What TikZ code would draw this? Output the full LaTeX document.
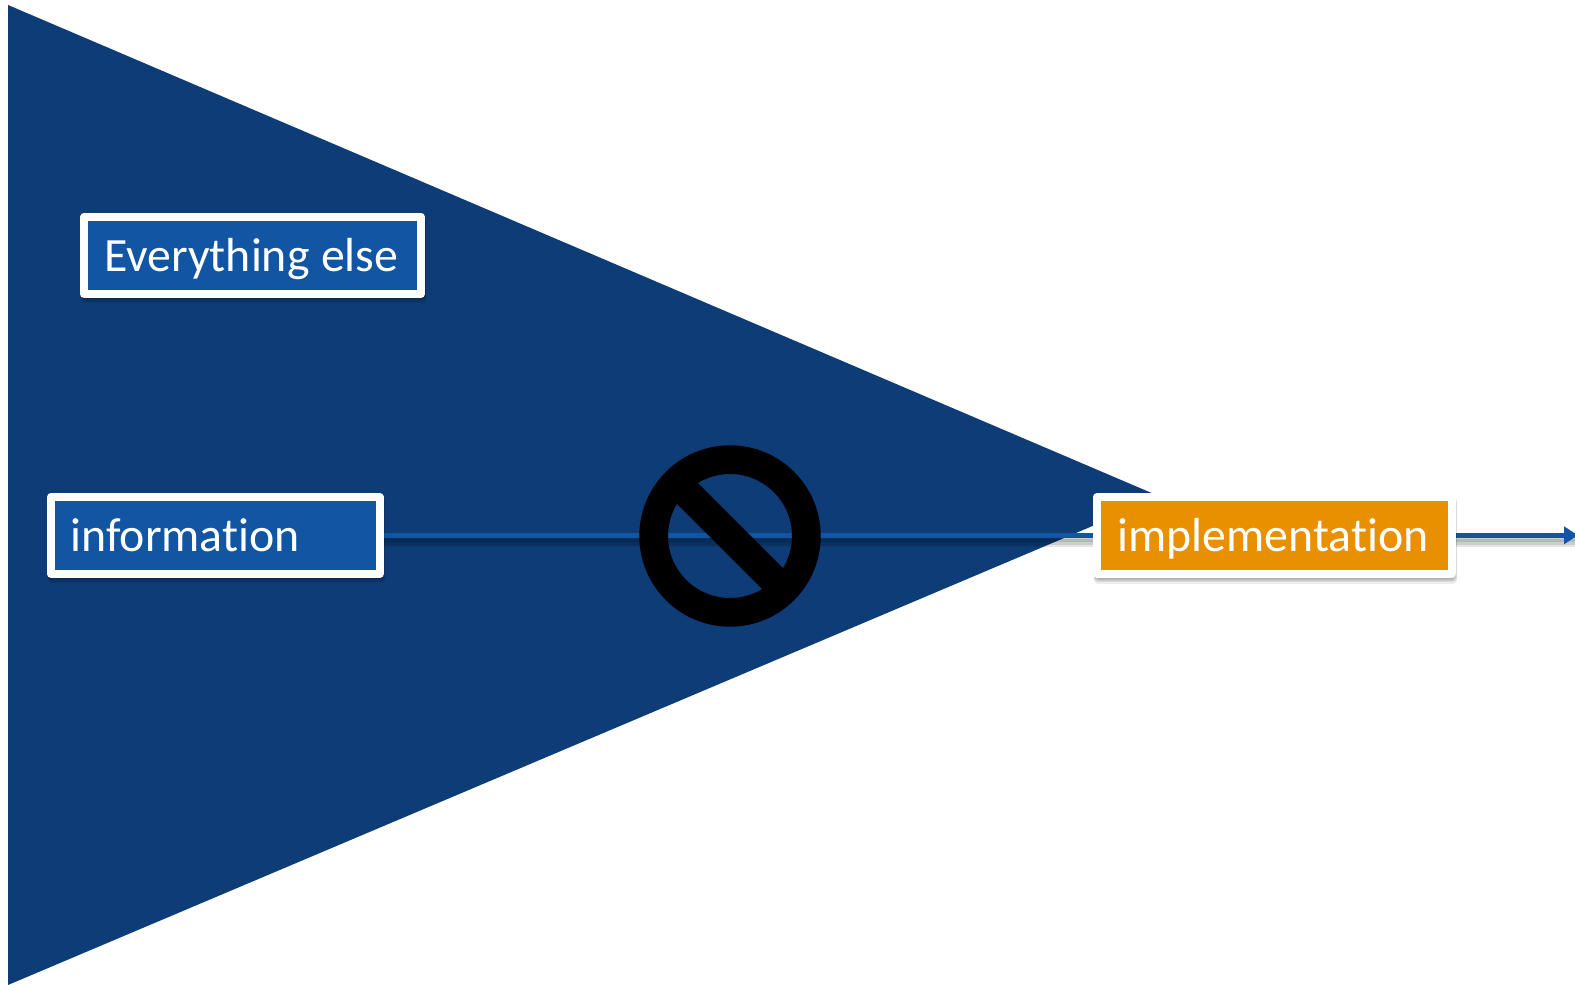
\documentclass[tikz,border=0pt]{standalone}
\usepackage{fontspec}
\setmainfont{Carlito}[Ligatures=NoCommon,RawFeature={-liga;-clig;-dlig}]
\usetikzlibrary{arrows.meta,shadows}
\definecolor{funnel}{HTML}{0E3C77}
\definecolor{boxblue}{HTML}{1155A3}
\definecolor{boxorange}{HTML}{E89000}
\pgfdeclarelayer{under}
\pgfsetlayers{under,main}
\tikzset{
  softshadow/.style={
    general shadow={shadow xshift=.5pt,shadow yshift=-1pt,draw=black,fill=black,opacity=.06},
    general shadow={shadow xshift=.5pt,shadow yshift=-2.5pt,draw=black,fill=black,opacity=.07},
    general shadow={shadow xshift=1pt,shadow yshift=-4pt,draw=black,fill=black,opacity=.08},
    general shadow={shadow xshift=1pt,shadow yshift=-5.5pt,draw=black,fill=black,opacity=.07}},
  labelbox/.style={softshadow,draw=white,line width=8pt,line join=round,text=white,
    font=\fontsize{47.8pt}{50pt}\selectfont,inner xsep=19.5pt,inner ysep=0pt,outer sep=0pt,
    align=left,text depth=10pt,text height=42.2pt,minimum height=77pt,anchor=center},
  wire/.style={line width=5.5pt,draw=boxblue},
  wireshadow/.style={draw=black,opacity=.10},
  noentry/.style={draw=black}
}
\begin{document}
\begin{tikzpicture}[x=1pt,y=-1pt]
\useasboundingbox (0,0) rectangle (1575,985);
\node[labelbox,fill=boxblue,inner xsep=20pt,text width=297pt] (else) at (252.5,255.35) {\spaceskip=11.5pt Everything else};
\node[labelbox,fill=boxblue,text width=289.5pt] (info) at (215.25,535.35) {information};
\node[labelbox,fill=boxorange,inner xsep=20.5pt,text width=313.5pt] (impl) at (1274.25,535.5) {implementation};
\coordinate (wirelevel) at (0,535.3);
\coordinate (wireend) at (1578,535.3);
\coordinate (sign) at (730,536);
\begin{pgfonlayer}{under}
\fill[white] (0,0) rectangle (1575,985);
\fill[funnel] (8,5) -- (1161,497) -- (8,985) -- cycle;
\foreach \s/\w in {4/6,6/7,7.5/8}{
  \draw[wireshadow,line width=\w pt] ([yshift=-\s pt]info.east |- wirelevel) -- ([yshift=-\s pt]impl.west |- wirelevel);
  \draw[wireshadow,line width=\w pt] ([yshift=-\s pt]impl.east |- wirelevel) -- ([yshift=-\s pt]wireend);
}
\draw[wire] (info.east |- wirelevel) -- (impl.west |- wirelevel);
\draw[wire,-{Triangle[length=14pt,width=17pt]}] (impl.east |- wirelevel) -- (wireend);
\draw[noentry,line width=28.7pt] (sign) circle[radius=76.35pt];
\draw[noentry,line width=29.5pt] ([shift={(-54,-54)}]sign) -- ([shift={(54,54)}]sign);
\end{pgfonlayer}
\end{tikzpicture}
\end{document}
